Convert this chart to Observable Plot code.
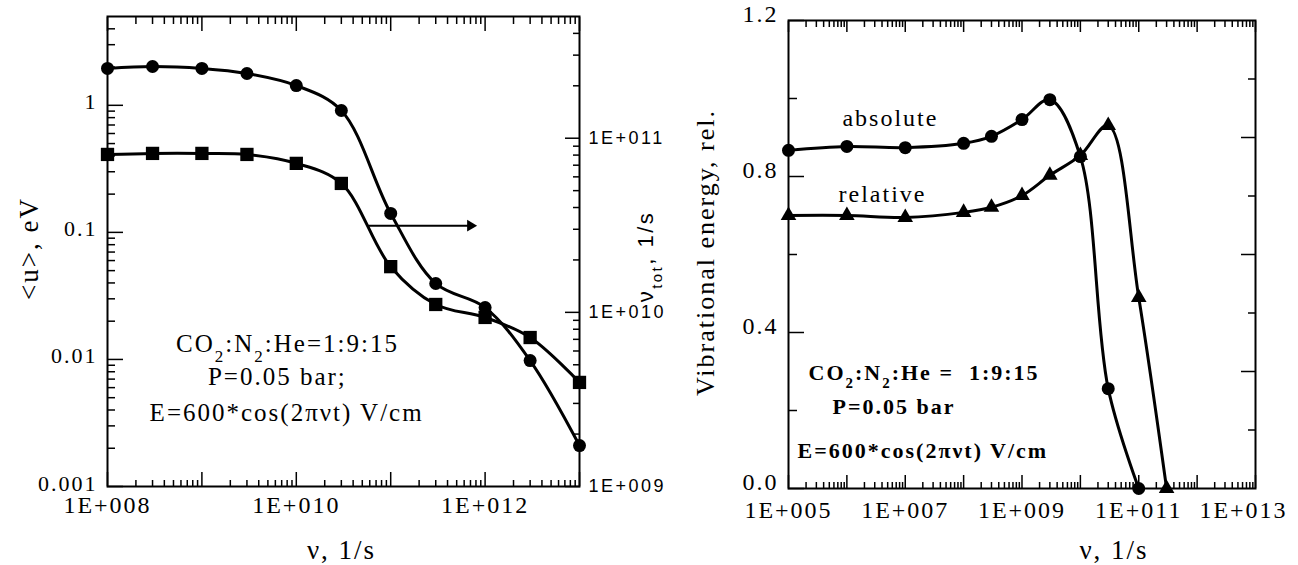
<!DOCTYPE html>
<html><head><meta charset="utf-8">
<script src="https://cdn.jsdelivr.net/npm/d3@7"></script>
<script src="https://cdn.jsdelivr.net/npm/@observablehq/plot@0.6"></script>
<style>
html,body{margin:0;padding:0;background:#fff;}
#wrap{position:relative;width:1298px;height:565px;overflow:hidden;background:#fff;}
#wrap svg{position:absolute;top:0;}
</style></head><body><div id="wrap"></div>
<script>
// ---------- Left panel data ----------
const freqL = [1e8, 3e8, 1e9, 3e9, 1e10, 3e10, 1e11, 3e11, 1e12, 3e12, 1e13];
const meanEnergy = [1.95, 2.02, 1.95, 1.78, 1.43, 0.91, 0.141, 0.0396, 0.0256, 0.0098, 0.0021]; // <u>, eV (circles)
const collisionFreq = [8.07e10, 8.18e10, 8.18e10, 8.07e10, 7.17e10, 5.5e10, 1.83e10, 1.11e10, 9.35e9, 7.17e9, 3.96e9]; // nu_tot, 1/s (squares)

// ---------- Right panel data ----------
const freqAbs = [1e5, 1e6, 1e7, 1e8, 3e8, 1e9, 3e9, 1e10, 3e10, 1e11];
const vibAbsolute = [0.867, 0.877, 0.874, 0.885, 0.903, 0.946, 0.997, 0.851, 0.256, 0];
const freqRel = [1e5, 1e6, 1e7, 1e8, 3e8, 1e9, 3e9, 1e10, 3e10, 1e11, 3e11];
const vibRelative = [0.700, 0.700, 0.695, 0.708, 0.721, 0.751, 0.803, 0.854, 0.931, 0.49, 0];

// ---------- Tick labels ----------
const leftYTicks = [0.001, 0.01, 0.1, 1];
const leftYLabels = ["0.001", "0.01", "0.1", "1"];
const leftXTicks = [1e8, 1e10, 1e12];
const leftXLabels = ["1E+008", "1E+010", "1E+012"];
const nuTotTicks = [1e9, 1e10, 1e11];
const nuTotLabels = ["1E+009", "1E+010", "1E+011"];
const rightXTicks = [1e5, 1e7, 1e9, 1e11];
const rightXLabels = ["1E+005", "1E+007", "1E+009", "1E+011"];
const rightXLast = [1e13];
const rightXLastLabel = ["1E+013"];
const rightYTicks = [0, 0.4, 0.8, 1.2];
const rightYLabels = ["0.0", "0.4", "0.8", "1.2"];
const rightYMinor = [0.2, 0.6, 1.0];
const rightSideLong = [0.3, 0.6, 0.9];
const rightSideShort = [0.15, 0.45, 0.75, 1.05];

// ---------- Annotations (data coordinates) ----------
const notesLeft = [
  {x: 8.07e9, y: 0.0133, text: "CO_{2}:N_{2}:He=1:9:15"},
  {x: 6.3e9, y: 0.00721, text: "P=0.05 bar;"},
  {x: 7.9e9, y: 0.00376, text: "E=600*cos(2πνt) V/cm"}
];
const arrowLeft = [{x1: 5.8e10, x2: 7.0e11, y: 0.113}];
const notesRight = [
  {x: 2.2e5, y: 0.297, text: "CO_{2}:N_{2}:He = \u00a01:9:15"},
  {x: 5.66e5, y: 0.208, text: "P=0.05 bar"},
  {x: 1.43e5, y: 0.097, text: "E=600*cos(2πνt) V/cm"}
];
const curveLabels = [
  {x: 8.4e5, y: 0.949, text: "absolute"},
  {x: 7.2e5, y: 0.754, text: "relative"}
];

// ---------- helpers ----------
function logMajor(lo, hi) {
  const out = [];
  for (let e = Math.ceil(Math.log10(lo) - 1e-9); e <= Math.floor(Math.log10(hi) + 1e-9); e++) out.push(Math.pow(10, e));
  return out;
}
function logMinor(lo, hi) {
  const out = [];
  for (let e = Math.floor(Math.log10(lo)) - 1; e <= Math.ceil(Math.log10(hi)); e++)
    for (let k = 2; k <= 9; k++) { const v = k * Math.pow(10, e); if (v > lo * 1.0001 && v < hi * 0.9999) out.push(v); }
  return out;
}
const fmt = (ticks, labels) => d => labels[ticks.indexOf(d)];
const blank = () => "";
function subscripts(svg) {
  svg.querySelectorAll("text").forEach(t => {
    const targets = t.querySelectorAll("tspan").length ? [...t.querySelectorAll("tspan")] : [t];
    targets.forEach(el => {
      const s = el.textContent;
      if (!s.includes("_{")) return;
      el.textContent = "";
      s.split(/(_\{[^}]*\})/).forEach(p => {
        if (!p) return;
        const ts = document.createElementNS("http://www.w3.org/2000/svg", "tspan");
        if (p.startsWith("_{")) {
          ts.textContent = p.slice(2, -1);
          ts.setAttribute("baseline-shift", "sub");
          ts.setAttribute("font-size", "68%");
        } else ts.textContent = p;
        el.appendChild(ts);
      });
    });
  });
}

const H = 565;
const wrap = document.getElementById("wrap");

// ---------- Left panel (main, <u>) ----------
const W1 = 680;
const leftMargins = {marginLeft: 107, marginRight: W1 - 579, marginTop: 16, marginBottom: H - 486};
const uData = freqL.map((f, i) => ({f, v: meanEnergy[i]}));
const nData = freqL.map((f, i) => ({f, v: collisionFreq[i]}));
const xDomL = [1e8, 1e13];

const left = Plot.plot({
  width: W1, height: H, ...leftMargins,
  style: {fontFamily: "'Liberation Serif', serif", fontSize: "24px", background: "transparent", overflow: "visible", letterSpacing: "2px", color: "#000"},
  x: {type: "log", domain: xDomL},
  y: {type: "log", domain: [0.001, 5]},
  marks: [
    Plot.frame({strokeWidth: 2}),
    Plot.axisX({anchor: "bottom", ticks: logMajor(...xDomL), tickSize: -14, tickFormat: blank, label: null, strokeWidth: 1.5}),
    Plot.axisX({anchor: "bottom", ticks: logMinor(...xDomL), tickSize: -6, tickFormat: blank, label: null, strokeWidth: 1.5}),
    Plot.axisX({anchor: "top", ticks: logMajor(...xDomL), tickSize: -14, tickFormat: blank, label: null, strokeWidth: 1.5}),
    Plot.axisX({anchor: "top", ticks: logMinor(...xDomL), tickSize: -7, tickFormat: blank, label: null, strokeWidth: 1.5}),
    Plot.axisX({anchor: "bottom", ticks: leftXTicks, tickSize: 0, tickPadding: 9, tickFormat: fmt(leftXTicks, leftXLabels), label: null, fontSize: 24}),
    Plot.axisY({anchor: "left", ticks: logMajor(0.001, 5), tickSize: -16, tickFormat: blank, label: null, strokeWidth: 1.5}),
    Plot.axisY({anchor: "left", ticks: logMinor(0.001, 5), tickSize: -8, tickFormat: blank, label: null, strokeWidth: 1.5}),
    Plot.axisY({anchor: "left", ticks: leftYTicks, tickSize: 0, tickPadding: 10, tickFormat: fmt(leftYTicks, leftYLabels), label: null, fontSize: 22, dy: -3}),
    Plot.text(["<u>, eV"], {text: d => d, frameAnchor: "left", textAnchor: "middle", lineAnchor: "middle", dx: -78, dy: -3, rotate: -90, fontSize: 27}),
    Plot.text(["ν, 1/s"], {text: d => d, frameAnchor: "bottom", textAnchor: "middle", lineAnchor: "middle", dx: -2, dy: 64, fontSize: 27}),
    Plot.line(uData, {x: "f", y: "v", curve: "catmull-rom", strokeWidth: 3, stroke: "black"}),
    Plot.dot(uData, {x: "f", y: "v", r: 6.5, fill: "black", stroke: "none"}),
    Plot.link(arrowLeft, {x1: "x1", x2: "x2", y1: "y", y2: "y", strokeWidth: 2, stroke: "black"}),
    Plot.dot(arrowLeft, {x: "x2", y: "y", symbol: "triangle2", rotate: 90, r: 5.5, fill: "black", stroke: "none"}),
    Plot.text(notesLeft, {x: "x", y: "y", text: "text", fontSize: 25})
  ]
});
left.style.left = "0px";
subscripts(left);
wrap.appendChild(left);

// ---------- Left panel overlay (nu_tot, right axis) ----------
const overlay = Plot.plot({
  width: W1, height: H, ...leftMargins,
  style: {fontFamily: "'Liberation Sans', Arial, sans-serif", fontSize: "18px", background: "transparent", overflow: "visible", letterSpacing: "2.5px", color: "#000"},
  x: {type: "log", domain: xDomL, axis: null},
  y: {type: "log", domain: [1e9, 5e11]},
  marks: [
    Plot.axisY({anchor: "right", ticks: logMajor(1e9, 5e11), tickSize: -15, tickFormat: blank, label: null, strokeWidth: 1.5}),
    Plot.axisY({anchor: "right", ticks: logMinor(1e9, 5e11), tickSize: -7, tickFormat: blank, label: null, strokeWidth: 1.5}),
    Plot.axisY({anchor: "right", ticks: nuTotTicks, tickSize: 0, tickPadding: 9, tickFormat: fmt(nuTotTicks, nuTotLabels), label: null, fontSize: 18}),
    Plot.text(["ν_{tot}, 1/s"], {text: d => d, frameAnchor: "right", textAnchor: "middle", lineAnchor: "middle", dx: 66, dy: 5, rotate: -90, fontSize: 22}),
    Plot.line(nData, {x: "f", y: "v", curve: "catmull-rom", strokeWidth: 3, stroke: "black"}),
    Plot.dot(nData, {x: "f", y: "v", symbol: "square", r: 7.5, fill: "black", stroke: "none"})
  ]
});
overlay.style.left = "0px";
subscripts(overlay);
wrap.appendChild(overlay);

// ---------- Right panel ----------
const X0 = 680, W2 = 618;
const xDomR = [1e5, 1e13];
const absData = freqAbs.map((f, i) => ({f, v: vibAbsolute[i]}));
const relData = freqRel.map((f, i) => ({f, v: vibRelative[i]}));
const right = Plot.plot({
  width: W2, height: H,
  marginLeft: 788 - X0, marginRight: W2 - (1255 - X0), marginTop: 20, marginBottom: H - 488,
  style: {fontFamily: "'Liberation Serif', serif", fontSize: "24px", background: "transparent", overflow: "visible", letterSpacing: "2px", color: "#000"},
  x: {type: "log", domain: xDomR},
  y: {type: "linear", domain: [0, 1.2]},
  marks: [
    Plot.frame({strokeWidth: 2}),
    Plot.axisX({anchor: "bottom", ticks: logMajor(...xDomR), tickSize: -13, tickFormat: blank, label: null, strokeWidth: 1.5}),
    Plot.axisX({anchor: "bottom", ticks: logMinor(...xDomR), tickSize: -6, tickFormat: blank, label: null, strokeWidth: 1.5}),
    Plot.axisX({anchor: "top", ticks: logMajor(...xDomR), tickSize: -11, tickFormat: blank, label: null, strokeWidth: 1.5}),
    Plot.axisX({anchor: "top", ticks: logMinor(...xDomR), tickSize: -6, tickFormat: blank, label: null, strokeWidth: 1.5}),
    Plot.axisX({anchor: "bottom", ticks: rightXTicks, tickSize: 0, tickPadding: 12, tickFormat: fmt(rightXTicks, rightXLabels), label: null, fontSize: 24}),
    Plot.axisX({anchor: "bottom", ticks: rightXLast, tickSize: 0, tickPadding: 12, tickFormat: fmt(rightXLast, rightXLastLabel), label: null, fontSize: 24, dx: -12}),
    Plot.axisY({anchor: "left", ticks: rightYTicks, tickSize: -16, tickFormat: blank, label: null, strokeWidth: 1.5}),
    Plot.axisY({anchor: "left", ticks: rightYMinor, tickSize: -9, tickFormat: blank, label: null, strokeWidth: 1.5}),
    Plot.axisY({anchor: "left", ticks: rightYTicks, tickSize: 0, tickPadding: 10, tickFormat: fmt(rightYTicks, rightYLabels), label: null, fontSize: 24, dy: -6}),
    Plot.axisY({anchor: "right", ticks: rightSideLong, tickSize: -15, tickFormat: blank, label: null, strokeWidth: 1.5}),
    Plot.axisY({anchor: "right", ticks: rightSideShort, tickSize: -8, tickFormat: blank, label: null, strokeWidth: 1.5}),
    Plot.text(["Vibrational energy, rel."], {text: d => d, frameAnchor: "left", textAnchor: "middle", lineAnchor: "middle", dx: -83, dy: -2, rotate: -90, fontSize: 26}),
    Plot.text(["ν, 1/s"], {text: d => d, frameAnchor: "bottom", textAnchor: "middle", lineAnchor: "middle", dx: 92, dy: 62, fontSize: 27}),
    Plot.line(absData, {x: "f", y: "v", curve: "catmull-rom", strokeWidth: 3, stroke: "black"}),
    Plot.line(relData, {x: "f", y: "v", curve: "catmull-rom", strokeWidth: 3, stroke: "black"}),
    Plot.dot(absData, {x: "f", y: "v", r: 6.5, fill: "black", stroke: "none"}),
    Plot.dot(relData, {x: "f", y: "v", symbol: "triangle", r: 5.8, fill: "black", stroke: "none"}),
    Plot.text(curveLabels, {x: "x", y: "y", text: "text", textAnchor: "start", fontSize: 24}),
    Plot.text(notesRight, {x: "x", y: "y", text: "text", textAnchor: "start", fontSize: 22, fontWeight: "bold"})
  ]
});
right.style.left = X0 + "px";
subscripts(right);
wrap.appendChild(right);
</script>
</body></html>
